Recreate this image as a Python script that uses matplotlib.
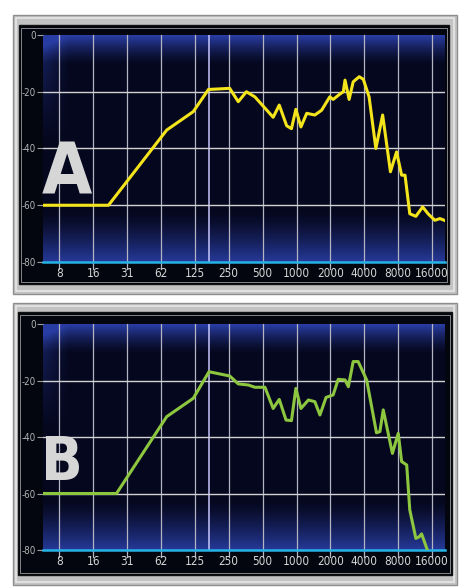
import numpy as np
import matplotlib
matplotlib.use("Agg")
import matplotlib.pyplot as plt
from matplotlib.patches import Rectangle
from matplotlib import font_manager

# frequency axis (Hz) and labels
tick_hz = [8, 16, 32, 64, 128, 256, 512, 1024, 2048, 4096, 8192, 16384]
tick_labels = ["8", "16", "31", "62", "125", "250", "500", "1000", "2000", "4000", "8000", "16000"]
db_ticks = [0, -20, -40, -60, -80]
cursor_hz = 170

# curve A (yellow)
a_hz = [5.9, 21.9, 72, 124, 169, 261, 311, 367, 437, 635, 719, 837, 923, 1010, 1120,
        1261, 1489, 1710, 2020, 2165, 2487, 2665, 2760, 3000, 3260, 3690, 4010, 4513,
        5184, 5955, 6985, 7913, 8780, 9410, 10370, 11745, 13490, 15070, 17310, 19210, 21020]
a_db = [-60, -60, -33.5, -27, -19.2, -18.8, -23.5, -20, -21.8, -29, -24.7, -32, -33, -26.2, -32.4,
        -27.6, -28.2, -26.5, -21.8, -22.7, -20.8, -20, -15.9, -22.7, -16.5, -14.7, -15.6, -21.8,
        -40, -28.2, -48.2, -41.2, -49.4, -49.4, -63, -63.9, -60.6, -63, -65.3, -64.7, -65.3]

# curve B (green)
b_hz = [5.9, 25.8, 72, 124, 171, 261, 311, 383, 437, 537, 635, 719, 826, 923, 1010, 1120,
        1305, 1489, 1652, 1872, 2165, 2400, 2760, 2955, 3260, 3610, 4295, 5250, 5630, 6030,
        7270, 8190, 8780, 9740, 10370, 11745, 12590, 13210, 14860]
b_db = [-60, -60, -32.8, -26.3, -16.9, -18.4, -21.2, -21.6, -22.4, -22.4, -29.9, -26.7, -34, -34.2,
        -22.8, -29.9, -26.9, -27.5, -32.2, -26, -25.1, -19.6, -19.8, -22.2, -13.3, -13.3, -19.8,
        -38.5, -38.1, -30.4, -45.8, -38.7, -48.7, -49.9, -65.8, -75.9, -75.3, -74.3, -80]

W, H = 470, 588


def narrow_font(bold):
    # look for an installed narrow / condensed face
    want = "bold" if bold else "normal"
    best = None
    for f in font_manager.fontManager.ttflist:
        n = f.name.lower()
        fn = f.fname.lower()
        narrow = ("narrow" in n or "condensed" in n or "narrow" in fn or "condensed" in fn
                  or f.stretch in ("condensed", "semi-condensed", "extra-condensed"))
        if not narrow or "italic" in fn or "oblique" in fn or f.style != "normal":
            continue
        w = f.weight if isinstance(f.weight, int) else font_manager.weight_dict.get(f.weight, 400)
        if (w >= 600) != bold:
            continue
        if "semi" in fn or "extra" in fn or "light" in fn or "black" in fn or "thin" in fn:
            continue
        rank = 0 if "liberation" in fn else 1 if "dejavu" in fn else 2
        if best is None or rank < best[0]:
            best = (rank, f.fname)
    if best:
        return font_manager.FontProperties(fname=best[1])
    return font_manager.FontProperties(family="DejaVu Sans", weight=want)


FP_TICK = narrow_font(False)
FP_BIG = narrow_font(True)


def box(x0, y0, x1, y1):
    return [x0 / W, 1 - y1 / H, (x1 - x0) / W, (y1 - y0) / H]


def rect(fig, x0, y0, x1, y1, **kw):
    b = box(x0, y0, x1, y1)
    fig.patches.append(Rectangle((b[0], b[1]), b[2], b[3], transform=fig.transFigure,
                                 zorder=-5, **kw))


def frame(fig, x0, y0, x1, y1, dx0, dy0, dx1, dy1):
    rect(fig, x0, y0, x1, y1, facecolor="#c3c3c3", edgecolor="#8e8e8e", lw=1)
    rect(fig, x0 + 3, y0 + 3, x1 - 3, y1 - 3, facecolor="none", edgecolor="#e6e6e6", lw=1.2)
    rect(fig, dx0, dy0, dx1, dy1, facecolor="#03050f", edgecolor="#111111", lw=1)
    rect(fig, dx0 + 2, dy0 + 3, dx1 - 2, dy1 - 2, facecolor="none", edgecolor="#9a9a9a", lw=0.6)


def background():
    t = np.linspace(0, 1, 200)[:, None]
    s = np.linspace(0, 1, 100)[None, :]
    dark = np.array([0.02, 0.03, 0.12])
    blue = np.array([0.16, 0.24, 0.64])
    top = np.clip((t - 0.87) / 0.13, 0, 1) ** 1.4
    bot = np.clip((0.22 - t) / 0.22, 0, 1) ** 1.3 * 0.92
    left = np.clip((0.06 - s) / 0.06, 0, 1) * np.clip((t - 0.55) / 0.45, 0, 1) * 0.5
    k = np.clip(top + bot + left, 0, 1)[..., None]
    img = dark * (1 - k) + blue * k
    return img[::-1]


def panel(fig, rect_, hz, db, color, letter, letter_xy, letter_size):
    ax = fig.add_axes(rect_)
    ax.patch.set_alpha(0)
    ax.imshow(background(), extent=[0, 1, 0, 1], transform=ax.transAxes,
              aspect="auto", zorder=0, interpolation="bilinear")
    ax.set_xscale("log", base=2)
    ax.set_xlim(5.74, 21310)
    ax.set_ylim(-80, 0)
    for f in tick_hz:
        ax.axvline(f, ymin=-0.03, ymax=1, color="#b4b4c2", lw=0.9, zorder=1, clip_on=False)
    ax.axvline(cursor_hz, color="#c8c8ff", lw=1.1, zorder=1)
    for d in [-20, -40, -60]:
        ax.axhline(d, color="#d2d2d2", lw=1.0, zorder=1)
    ax.axhline(-80, color="#26b3e6", lw=1.8, zorder=2, clip_on=False)
    ax.plot(hz, db, color=color, lw=2.2, zorder=3, solid_joinstyle="round")
    ax.set_xticks(tick_hz)
    ax.set_xticklabels(tick_labels)
    ax.xaxis.set_minor_locator(matplotlib.ticker.NullLocator())
    ax.set_yticks(db_ticks)
    ax.set_yticklabels([str(d) for d in db_ticks])
    ax.tick_params(axis="x", length=0, pad=3.5, labelcolor="#d6d6d6")
    ax.tick_params(axis="y", length=4, width=0.8, color="#a0a0a0", pad=1,
                   labelcolor="#b5b5b5")
    for lab in ax.get_xticklabels():
        lab.set_fontproperties(FP_TICK)
        lab.set_fontsize(8.5)
    for lab in ax.get_yticklabels():
        lab.set_fontproperties(FP_TICK)
        lab.set_fontsize(7)
    for sp in ax.spines.values():
        sp.set_visible(False)
    fig.text(letter_xy[0] / W, 1 - letter_xy[1] / H, letter, fontproperties=FP_BIG,
             fontsize=letter_size, color="#d6d6d6", ha="left", va="baseline")
    return ax


fig = plt.figure(figsize=(4.7, 5.88), dpi=100)
fig.patch.set_facecolor("white")

frame(fig, 13, 15, 457, 294, 19, 25, 449, 284)
frame(fig, 13, 303, 457, 585, 18, 312, 452, 575)

panel(fig, box(43, 35, 445, 262), a_hz, a_db, "#f4e41c", "A", (42, 193), 52)
panel(fig, box(43, 324, 445, 550), b_hz, b_db, "#8dc63f", "B", (41, 480), 44)

fig.savefig("out.png", dpi=100, facecolor="white")
